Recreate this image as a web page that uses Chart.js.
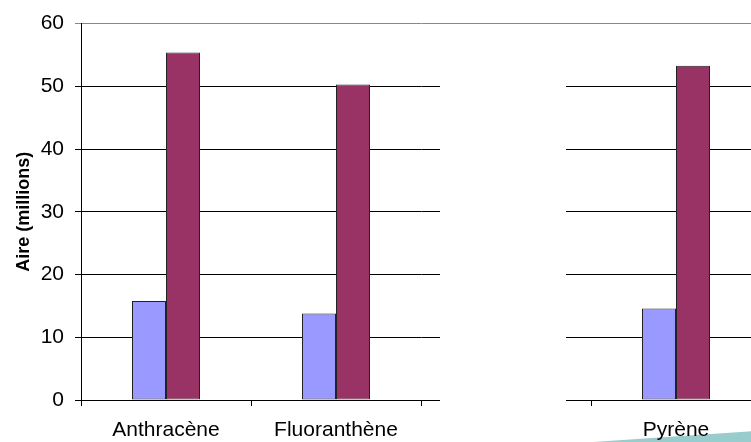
<!DOCTYPE html>
<html>
<head>
<meta charset="utf-8">
<script src="https://cdn.jsdelivr.net/npm/chart.js@4/dist/chart.umd.min.js"></script>
<style>
  html, body { margin: 0; padding: 0; background: #fff; overflow: hidden; }
  #wrap { width: 770px; height: 442px; }
</style>
</head>
<body>
<div id="wrap"><canvas id="Chart_aire" width="770" height="442"></canvas></div>
<script>
// Chart data
const categories = ['Anthracène', 'Fluoranthène', '', 'Pyrène'];
const seriesBlue = [15.8, 13.8, null, 14.6];
const seriesRed = [55.4, 50.3, null, 53.3];
const yTicks = [0, 10, 20, 30, 40, 50, 60];

Chart.defaults.font.family = '"Liberation Sans", Arial, sans-serif';
Chart.defaults.color = '#000';

// Teal swoosh behind the labels, white panel hiding the middle of the plot
const overlayPlugin = {
    id: 'overlay',
    beforeDraw(chart) {
        const ctx = chart.ctx;
        const w = chart.width, h = chart.height;
        ctx.save();
        ctx.fillStyle = '#99cccc';
        ctx.beginPath();
        ctx.moveTo(593, h);
        ctx.lineTo(w, h - 12);
        ctx.lineTo(w, h);
        ctx.closePath();
        ctx.fill();
        ctx.restore();
    },
    afterDraw(chart) {
        const ctx = chart.ctx;
        const area = chart.chartArea;
        const mid = chart.scales.x.getPixelForValue(2);
        ctx.save();
        ctx.fillStyle = '#fff';
        ctx.fillRect(mid - 66, area.top + 2, 126, area.bottom - area.top + 3);
        ctx.restore();
    }
};

const ctx = document.getElementById('Chart_aire').getContext('2d');
const myBarChart = new Chart(ctx, {
    type: 'bar',
    data: {
        labels: categories,
        datasets: [
            {
                label: 'Série 1',
                data: seriesBlue,
                backgroundColor: '#9999ff',
                borderColor: '#222',
                borderWidth: 1,
                borderSkipped: false,
                barPercentage: 1,
                categoryPercentage: 0.4
            },
            {
                label: 'Série 2',
                data: seriesRed,
                backgroundColor: '#993366',
                borderColor: '#222',
                borderWidth: 1,
                borderSkipped: false,
                barPercentage: 1,
                categoryPercentage: 0.4
            }
        ]
    },
    options: {
        responsive: false,
        animation: false,
        devicePixelRatio: 1,
        layout: {
            padding: { left: 13, right: 9, top: 20, bottom: 0 }
        },
        scales: {
            x: {
                grid: {
                    offset: true,
                    drawOnChartArea: false,
                    tickLength: 6,
                    color: '#000'
                },
                border: { color: '#000', width: 1 },
                ticks: {
                    font: { size: 21 },
                    padding: 12,
                    maxRotation: 0,
                    autoSkip: false
                },
                afterFit(scale) { scale.height = 42; }
            },
            y: {
                min: 0,
                max: 60,
                afterBuildTicks(scale) {
                    scale.ticks = yTicks.map(v => ({ value: v }));
                },
                grid: {
                    color: (c) => c.tick && c.tick.value === 60 ? '#888' : '#000',
                    lineWidth: 1,
                    tickLength: 6
                },
                border: { color: '#000', width: 1 },
                ticks: {
                    font: { size: 21 },
                    padding: 11
                },
                title: {
                    display: true,
                    text: 'Aire (millions)',
                    font: { size: 18, weight: 'bold' },
                    padding: 0
                },
                afterFit(scale) { scale.width = 68; }
            }
        },
        plugins: {
            legend: { display: false },
            tooltip: { enabled: false }
        }
    },
    plugins: [overlayPlugin]
});
</script>
</body>
</html>
